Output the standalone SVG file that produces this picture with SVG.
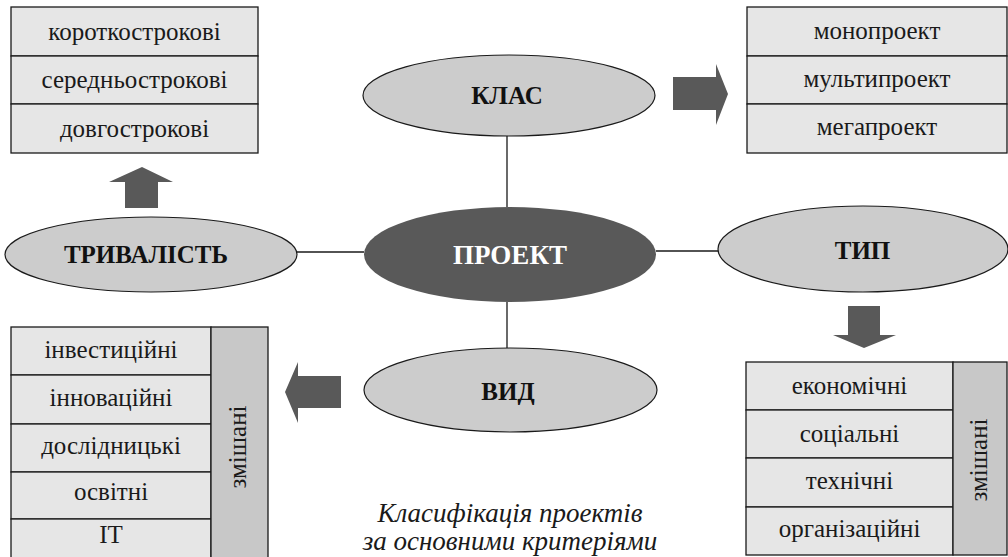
<svg xmlns="http://www.w3.org/2000/svg" width="1008" height="557" viewBox="0 0 1008 557">
<rect width="1008" height="557" fill="#ffffff"/>
<g id="connectors" stroke="#1a1a1a" stroke-width="1.3" fill="none">
<line x1="507" y1="136" x2="507" y2="207"/>
<line x1="507" y1="302" x2="507" y2="348"/>
<line x1="297" y1="252" x2="364" y2="252"/>
<line x1="656" y1="251" x2="718" y2="251"/>
<g stroke="none" fill="#595959">
<polygon points="125,208 158,208 158,182 173,182 142,167 109,182 125,182"/>
<polygon points="673,77 716,77 716,64 728,94 716,125 716,110 673,110"/>
<polygon points="848,306 880,306 880,335 896,335 864,348 833,335 848,335"/>
<polygon points="341,376 298,376 298,362 285,392 298,423 298,408 341,408"/>
</g>
</g>
<g id="duration-list">
<g fill="#e6e6e6" stroke="#1a1a1a" stroke-width="1.3">
<rect x="11" y="7" width="247" height="49"/>
<rect x="11" y="56" width="247" height="48"/>
<rect x="11" y="104" width="247" height="49"/>
</g>
<g font-family="Liberation Serif" font-size="25" fill="#1a1a1a" text-anchor="middle">
<text style="font-family:'Liberation Serif',serif !important" x="134.5" y="40">короткострокові</text>
<text style="font-family:'Liberation Serif',serif !important" x="134.5" y="88">середньострокові</text>
<text style="font-family:'Liberation Serif',serif !important" x="134.5" y="137">довгострокові</text>
</g>
</g>
<g id="class-list">
<g fill="#e6e6e6" stroke="#1a1a1a" stroke-width="1.3">
<rect x="747" y="7" width="260" height="49"/>
<rect x="747" y="56" width="260" height="48"/>
<rect x="747" y="104" width="260" height="49"/>
</g>
<g font-family="Liberation Serif" font-size="25" fill="#1a1a1a" text-anchor="middle">
<text style="font-family:'Liberation Serif',serif !important" x="877" y="39">монопроект</text>
<text style="font-family:'Liberation Serif',serif !important" x="877" y="87">мультипроект</text>
<text style="font-family:'Liberation Serif',serif !important" x="877" y="135">мегапроект</text>
</g>
</g>
<g id="klas">
<ellipse cx="509" cy="95.5" rx="146" ry="40.5" fill="#cccccc" stroke="#1a1a1a" stroke-width="1.2"/>
<text style="font-family:'Liberation Serif',serif !important" font-family="Liberation Serif" font-size="25" font-weight="bold" fill="#111111" text-anchor="middle" x="507" y="104">КЛАС</text>
</g>
<g id="tryvalist">
<ellipse cx="151" cy="254.5" rx="146" ry="37.5" fill="#cccccc" stroke="#1a1a1a" stroke-width="1.2"/>
<text style="font-family:'Liberation Serif',serif !important" font-family="Liberation Serif" font-size="25" font-weight="bold" fill="#111111" text-anchor="middle" x="146" y="263">ТРИВАЛІСТЬ</text>
</g>
<g id="proekt">
<ellipse cx="510" cy="254.5" rx="146" ry="47.5" fill="#595959"/>
<text style="font-family:'Liberation Serif',serif !important" font-family="Liberation Serif" font-size="27" font-weight="bold" fill="#ffffff" text-anchor="middle" x="510" y="264">ПРОЕКТ</text>
</g>
<g id="typ">
<ellipse cx="863" cy="249" rx="145" ry="43" fill="#cccccc" stroke="#1a1a1a" stroke-width="1.2"/>
<text style="font-family:'Liberation Serif',serif !important" font-family="Liberation Serif" font-size="25" font-weight="bold" fill="#111111" text-anchor="middle" x="862.5" y="259">ТИП</text>
</g>
<g id="vyd">
<ellipse cx="510.5" cy="390" rx="146.5" ry="42" fill="#cccccc" stroke="#1a1a1a" stroke-width="1.2"/>
<text style="font-family:'Liberation Serif',serif !important" font-family="Liberation Serif" font-size="25" font-weight="bold" fill="#111111" text-anchor="middle" x="508" y="400">ВИД</text>
</g>
<g id="kind-list">
<g fill="#e6e6e6" stroke="#1a1a1a" stroke-width="1.3">
<rect x="11" y="327" width="200" height="48"/>
<rect x="11" y="375" width="200" height="49"/>
<rect x="11" y="424" width="200" height="48"/>
<rect x="11" y="472" width="200" height="47"/>
<rect x="11" y="519" width="200" height="48"/>
<rect x="211" y="327" width="57" height="240" fill="#c8c8c8"/>
</g>
<g font-family="Liberation Serif" font-size="25" fill="#1a1a1a" text-anchor="middle">
<text style="font-family:'Liberation Serif',serif !important" x="111" y="358">інвестиційні</text>
<text style="font-family:'Liberation Serif',serif !important" x="111" y="406">інноваційні</text>
<text style="font-family:'Liberation Serif',serif !important" x="111" y="454">дослідницькі</text>
<text style="font-family:'Liberation Serif',serif !important" x="111" y="500">освітні</text>
<text style="font-family:'Liberation Serif',serif !important" x="111" y="543">ІТ</text>
<text style="font-family:'Liberation Serif',serif !important" transform="translate(246,447) rotate(-90)">змішані</text>
</g>
</g>
<g id="type-list">
<g fill="#e6e6e6" stroke="#1a1a1a" stroke-width="1.3">
<rect x="746" y="362" width="207" height="48"/>
<rect x="746" y="410" width="207" height="48"/>
<rect x="746" y="458" width="207" height="49"/>
<rect x="746" y="507" width="207" height="48"/>
<rect x="953" y="362" width="54" height="193" fill="#c8c8c8"/>
</g>
<g font-family="Liberation Serif" font-size="25" fill="#1a1a1a" text-anchor="middle">
<text style="font-family:'Liberation Serif',serif !important" x="849.5" y="394">економічні</text>
<text style="font-family:'Liberation Serif',serif !important" x="849.5" y="442">соціальні</text>
<text style="font-family:'Liberation Serif',serif !important" x="849.5" y="489">технічні</text>
<text style="font-family:'Liberation Serif',serif !important" x="849.5" y="537">організаційні</text>
<text style="font-family:'Liberation Serif',serif !important" transform="translate(987,460) rotate(-90)">змішані</text>
</g>
</g>
<g id="caption" font-family="Liberation Serif" font-size="27" font-style="italic" fill="#1a1a1a" text-anchor="middle">
<text style="font-family:'Liberation Serif',serif !important" x="510" y="522">Класифікація проектів</text>
<text style="font-family:'Liberation Serif',serif !important" x="510" y="550">за основними критеріями</text>
</g>
</svg>
